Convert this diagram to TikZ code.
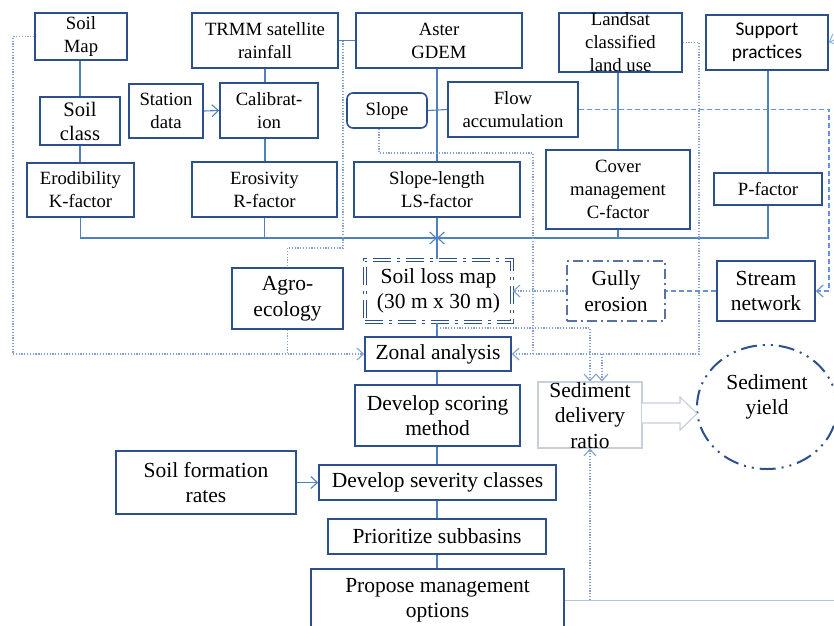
\documentclass[tikz,border=0pt]{standalone}
\usepackage{fontspec}
\setmainfont{Liberation Serif}
\newfontfamily\calfont{Carlito}
\usetikzlibrary{arrows.meta,shapes.geometric}
\definecolor{boxc}{RGB}{44,80,140}
\definecolor{linec}{RGB}{79,129,189}
\definecolor{dotc}{RGB}{130,160,210}
\definecolor{dashc}{RGB}{100,150,215}
\definecolor{grayc}{RGB}{200,208,220}
\newcommand\ftop{\fontsize{18.7}{23}\selectfont}
\newcommand\fbot{\fontsize{21.5}{25.5}\selectfont}
\begin{document}
\begin{tikzpicture}[x=1pt,y=-1pt,
 bx/.style 2 args={draw=boxc,line width=1.6pt,minimum width=#1,minimum height=#2,align=center,inner sep=0pt,font=\ftop},
 txt/.style={align=center,inner sep=0pt},
 conn/.style={draw=linec,line width=1.1pt},
 dotl/.style={draw=dotc,line width=1.1pt,dash pattern=on 1.2pt off 1.6pt},
 dashl/.style={draw=dashc,line width=1.2pt,dash pattern=on 5pt off 3pt},
 arr/.style={-{Straight Barb[length=6.5pt,width=12pt]}},
 lossbox/.style={draw=boxc,line width=1.4pt,double=white,double distance=1.8pt,dash pattern=on 18pt off 6pt on 3pt off 6pt,minimum width=147pt,minimum height=62pt,align=center,inner sep=0pt,font=\fbot},
 gullybox/.style={draw=boxc!80,line width=1.4pt,dash pattern=on 10pt off 4pt on 2pt off 4pt,minimum width=98pt,minimum height=60pt,align=center,inner sep=0pt,font=\fbot}
]
\useasboundingbox (0,0) rectangle (834,625);
\clip (0,0) rectangle (834,625);

% top row
\node[bx={92pt}{47pt}] (soilmap) at (81,36.5) {Soil\\Map};
\node[bx={146pt}{55pt}] (trmm) at (265,40.5) {TRMM satellite\\rainfall};
\node[bx={166pt}{55pt}] (aster) at (439,40.5) {Aster\\GDEM};
\node[bx={123pt}{59pt}] (landsat) at (620.5,42.5) {};
\node[txt,font=\ftop] (landsatt) at (620.5,42.5) {Landsat\\classified\\land use};
\node[bx={122pt}{55pt},font=\calfont\fontsize{19.4}{23}\selectfont] (support) at (767,42.5) {Support\\practices};

% second row
\node[bx={80pt}{48pt},font=\fontsize{20.6}{24}\selectfont] (soilclass) at (80,121) {Soil\\class};
\node[bx={74pt}{54pt}] (station) at (166,111) {Station\\data};
\node[bx={98pt}{55pt}] (calib) at (269,110.5) {Calibrat-\\ion};
\node[bx={80pt}{35pt},rounded corners=6pt] (slope) at (387,110.5) {Slope};
\node[bx={130pt}{55pt}] (flow) at (513,109.5) {Flow\\accumulation};

% factors
\node[bx={107pt}{54pt}] (erod) at (80.5,190) {Erodibility\\K-factor};
\node[bx={145pt}{55pt}] (eros) at (264.5,189.5) {Erosivity\\R-factor};
\node[bx={166pt}{55pt}] (ls) at (437,189.5) {Slope-length\\LS-factor};
\node[bx={144pt}{79pt}] (cover) at (618,189.5) {Cover\\management\\C-factor};
\node[bx={108pt}{32pt}] (pfac) at (768,189) {P-factor};

% middle row
\node[bx={111pt}{61pt},font=\fbot] (agro) at (287.5,298.5) {Agro-\\ecology};
\node[lossbox] (soilloss) at (438.5,291) {Soil loss map\\(30 m x 30 m)};
\node[gullybox] (gully) at (616,291) {Gully\\erosion};
\node[bx={98pt}{60pt},font=\fbot] (stream) at (766,291) {Stream\\network};

% lower chain
\node[bx={146pt}{34pt},font=\fbot] (zonal) at (438,354) {Zonal analysis};
\node[bx={165pt}{61pt},font=\fbot] (scoring) at (437.5,415.5) {Develop scoring\\method};
\node[bx={180pt}{63pt},font=\fbot] (soilform) at (206,482.5) {Soil formation\\rates};
\node[bx={237pt}{35pt},font=\fbot] (severity) at (437.5,482.5) {Develop severity classes};
\node[bx={218pt}{35pt},font=\fbot] (prior) at (437,536.5) {Prioritize subbasins};
\node[bx={253pt}{62pt},font=\fbot] (propose) at (437.5,600) {Propose management\\options};

% sediment
\node[draw=grayc,line width=1.2pt,minimum width=104pt,minimum height=66pt,inner sep=0pt] (sdr) at (590,415) {};
\node[txt,font=\fbot] (sdrt) at (590,415.5) {Sediment\\delivery\\ratio};
\node[ellipse,draw=boxc,line width=2pt,dash pattern=on 16pt off 6pt on 2pt off 6pt on 2pt off 6pt,minimum width=140pt,minimum height=124pt,inner sep=0pt] (yield) at (767,407) {};
\node[txt,font=\fbot] (yieldt) at (767,397) {Sediment\\yield};
\draw[draw=grayc,line width=1.2pt,fill=white] (642,403) -- (680,403) -- (680,397) -- (697,413.5) -- (680,430) -- (680,423) -- (642,423);

% solid connectors
\draw[conn] (soilmap.south -| soilclass) -- (soilclass.north);
\draw[conn] (soilclass.south) -- (soilclass.south |- erod.north);
\draw[conn] (trmm.south) -- (trmm.south |- calib.north);
\draw[conn] (calib.south -| trmm) -- (eros.north -| trmm);
\draw[conn,arr] (station.east) -- (calib.west);
\draw[conn] (trmm.east) -- (aster.west);
\draw[conn] (aster.south -| ls) -- (ls.north);
\draw[conn] (slope.east) -- (flow.west);
\draw[conn] (landsat.south -| cover) -- (cover.north);
\draw[conn] (support.south -| pfac) -- (pfac.north);
\coordinate (bus) at (437,238);
\draw[conn,arr] (erod.south) |- (bus);
\draw[conn] (eros.south) -- (eros.south |- bus);
\draw[conn,arr] (pfac.south) |- (bus);
\draw[conn] (cover.south) -- (cover.south |- bus);
\draw[conn] (ls.south) -- (soilloss.north -| ls);
\draw[conn] (soilloss.south -| ls) -- (zonal.north -| ls);
\draw[conn] (zonal.south -| ls) -- (scoring.north -| ls);
\draw[conn] (scoring.south -| ls) -- (severity.north -| ls);
\draw[conn] (severity.south -| ls) -- (prior.north -| ls);
\draw[conn] (prior.south -| ls) -- (propose.north -| ls);
\draw[conn,arr] (soilform.east) -- (severity.west);
\draw[draw=linec!45,line width=1pt] (propose.east) -- (834,600);
\draw[draw=dashc!70,line width=1pt,arr] (834,40) -- (support.east);

% dotted connectors
\coordinate (tr1) at (343,40.5);
\draw[dotl] (tr1) -- (343,248) -- (agro.north |- 0,248) -- (agro.north);
\draw[dotl,arr] (soilmap.west) -| (13,354) -- (zonal.west);
\draw[dotl] (agro.south) -- (agro.south |- zonal.west);
\draw[dotl] ([xshift=-8pt]slope.south) |- (533,153) -- (533,354);
\draw[dotl,arr] (landsat.east) -| (699,354) -- (zonal.east);
\draw[dotl,arr] ([xshift=12pt]sdr.north |- zonal.east) -- ([xshift=12pt]sdr.north);
\coordinate (sl1) at (437,328);
\draw[dotl,arr] (sl1) -| (sdr.north);
\draw[dotl,arr] (gully.west) -- (soilloss.east);
\draw[dotl,arr] (sdr.south |- propose.east) -- (sdr.south);

% dashed connectors
\draw[dashl] (stream.west) -- (gully.east);
\draw[dashl,arr] (flow.east) -| (829,291) -- (stream.east);
\end{tikzpicture}
\end{document}
